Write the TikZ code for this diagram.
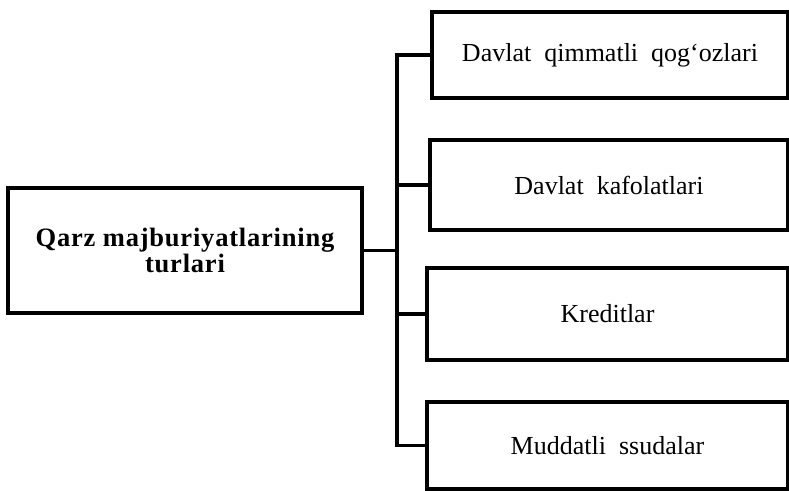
\documentclass[tikz,border=0pt]{standalone}
\usepackage{fontspec}
\setmainfont{Liberation Serif}
\newfontfamily\boldlsp[LetterSpace=3]{Liberation Serif}
\begin{document}
\begin{tikzpicture}[x=1pt,y=-1pt,
  box/.style={draw=black, line width=3.2pt, rectangle, inner sep=0pt, align=center},
  rbox/.style={box, font=\fontsize{26}{30}\selectfont},
  conn/.style={draw=black, line width=3.2pt}]
\useasboundingbox (0,0) rectangle (789,490);
\node[box, minimum width=354pt, minimum height=125pt,
  font=\boldlsp\bfseries\fontsize{26.5}{26}\selectfont] (l) at (185,250.5)
  {Qarz majburiyatlarining\\turlari};
\node[rbox, minimum width=356pt, minimum height=86pt] (b1) at (610,55) {Davlat\ \ qimmatli\ \ qog‘ozlari};
\node[rbox, minimum width=358pt, minimum height=90pt] (b2) at (609,185) {Davlat\ \ kafolatlari};
\node[rbox, minimum width=361pt, minimum height=92pt] (b3) at (607.5,314) {Kreditlar};
\node[rbox, minimum width=361pt, minimum height=87pt] (b4) at (607.5,445.5) {Muddatli\ \ ssudalar};
\coordinate (j) at (397,250.5);
\draw[conn] (l.east) -- (j);
\draw[conn] (b1.west) -- (b1.west -| j) -- (b4.west -| j) -- (b4.west);
\draw[conn] (b2.west) -- (b2.west -| j);
\draw[conn] (b3.west) -- (b3.west -| j);
\end{tikzpicture}
\end{document}
